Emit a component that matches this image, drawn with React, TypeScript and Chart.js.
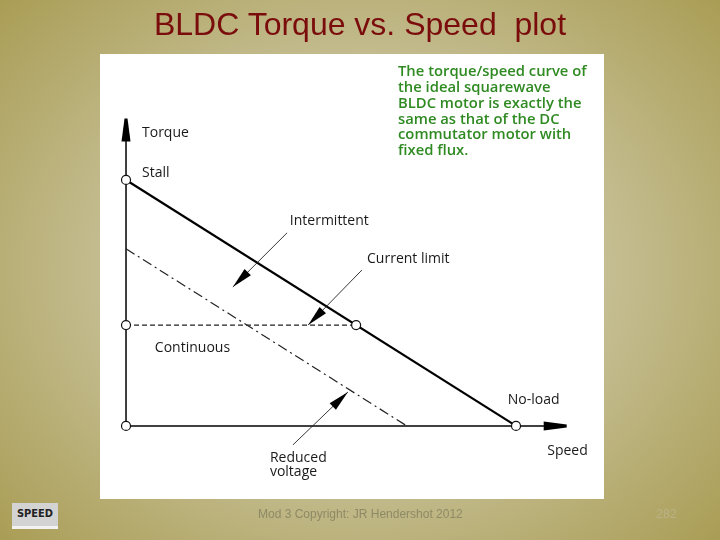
import React, { useEffect, useRef } from "react";
import { Chart, registerables } from "chart.js";

Chart.register(...registerables);

// ---- Data (arbitrary units: % of no-load speed, % of stall torque) ----
const mainSpeed = [0, 100];
const mainTorque = [100, 0];
const continuousSpeed = [0, 59];
const continuousTorque = [41, 41];
const reducedSpeed = [0, 72];
const reducedTorque = [72, 0];
const markerSpeed = [0, 0, 0, 59, 100];
const markerTorque = [100, 41, 0, 41, 0];
const torqueAxisEnd = 125;
const speedAxisEnd = 113;

const labelTexts = ["Torque", "Stall", "Intermittent", "Current limit", "Continuous", "No-load", "Speed", "Reduced", "voltage"];
const labelSpeed = [4.1, 4.1, 42, 61.8, 7.4, 97.9, 108, 36.9, 36.9];
const labelTorque = [119, 103, 83.3, 67.9, 31.7, 10.6, -10.2, -13.2, -18.9];

const arrowFromSpeed = [41.3, 60.5, 42.8];
const arrowFromTorque = [78.5, 63.4, -7.7];
const arrowToSpeed = [27.4, 46.7, 56.9];
const arrowToTorque = [56.5, 41, 13.8];

const noteLines = [
  "The torque/speed curve of",
  "the ideal squarewave",
  "BLDC motor is exactly the",
  "same as that of the DC",
  "commutator motor with",
  "fixed flux.",
];

const pts = (xs: number[], ys: number[]) => xs.map((x, i) => ({ x, y: ys[i] }));

const drawPlugin = {
  id: "diagram",
  afterDatasetsDraw(chart: any) {
    const ctx = chart.ctx as CanvasRenderingContext2D;
    const xs = chart.scales.x;
    const ys = chart.scales.y;
    const px = (v: number) => xs.getPixelForValue(v);
    const py = (v: number) => ys.getPixelForValue(v);
    ctx.save();
    ctx.fillStyle = "#000";
    // axis arrowheads
    const vx = px(0), vy = py(torqueAxisEnd);
    ctx.beginPath();
    ctx.moveTo(vx - 1.5, vy);
    ctx.lineTo(vx + 1.5, vy);
    ctx.lineTo(vx + 4.5, vy + 23);
    ctx.lineTo(vx - 4.5, vy + 23);
    ctx.closePath();
    ctx.fill();
    const hx = px(speedAxisEnd), hy = py(0);
    ctx.beginPath();
    ctx.moveTo(hx, hy - 1.5);
    ctx.lineTo(hx, hy + 1.5);
    ctx.lineTo(hx - 23, hy + 4.5);
    ctx.lineTo(hx - 23, hy - 4.5);
    ctx.closePath();
    ctx.fill();

    // leader arrows
    for (let i = 0; i < arrowFromSpeed.length; i++) {
      const x1 = px(arrowFromSpeed[i]), y1 = py(arrowFromTorque[i]);
      const x2 = px(arrowToSpeed[i]), y2 = py(arrowToTorque[i]);
      ctx.strokeStyle = "#222";
      ctx.lineWidth = 0.9;
      ctx.beginPath();
      ctx.moveTo(x1, y1);
      ctx.lineTo(x2, y2);
      ctx.stroke();
      const ang = Math.atan2(y2 - y1, x2 - x1);
      const len = 21, hw = 4.5;
      const bx = x2 - Math.cos(ang) * len, by = y2 - Math.sin(ang) * len;
      const nx = -Math.sin(ang), ny = Math.cos(ang);
      ctx.beginPath();
      ctx.moveTo(x2, y2);
      ctx.lineTo(bx + nx * hw, by + ny * hw);
      ctx.lineTo(bx - nx * hw, by - ny * hw);
      ctx.closePath();
      ctx.fill();
    }

    // labels
    ctx.fillStyle = "#1a1a1a";
    ctx.font = "14px 'Open Sans'";
    ctx.textBaseline = "middle";
    ctx.textAlign = "left";
    labelTexts.forEach((t, i) => {
      ctx.fillText(t, px(labelSpeed[i]), py(labelTorque[i]));
    });

    // note
    ctx.fillStyle = "#2f8a22";
    ctx.font = "600 14.8px 'Open Sans'";
    const left = chart.chartArea.left + 298;
    const top = chart.chartArea.top + 18;
    noteLines.forEach((t, i) => {
      ctx.fillText(t, left, top + i * 15.8);
    });
    ctx.restore();
  },
};

export default function App() {
  const ref = useRef<HTMLCanvasElement>(null);
  useEffect(() => {
    if (!ref.current) return;
    const chart = new Chart(ref.current, {
      type: "scatter",
      data: {
        datasets: [
          {
            data: pts(markerSpeed, markerTorque),
            showLine: false,
            pointRadius: 4.5,
            pointBackgroundColor: "#fff",
            pointBorderColor: "#111",
            pointBorderWidth: 1.2,
          },
          {
            data: pts(mainSpeed, mainTorque),
            showLine: true,
            borderColor: "#000",
            borderWidth: 2.2,
            pointRadius: 0,
          },
          {
            data: pts(continuousSpeed, continuousTorque),
            showLine: true,
            borderColor: "#222",
            borderWidth: 1.2,
            borderDash: [5, 3],
            pointRadius: 0,
          },
          {
            data: pts(reducedSpeed, reducedTorque),
            showLine: true,
            borderColor: "#222",
            borderWidth: 1.2,
            borderDash: [10, 4, 2, 4],
            pointRadius: 0,
          },
          {
            data: pts([0, 0], [0, torqueAxisEnd - 2]),
            showLine: true,
            borderColor: "#000",
            borderWidth: 1.5,
            pointRadius: 0,
          },
          {
            data: pts([0, speedAxisEnd - 2], [0, 0]),
            showLine: true,
            borderColor: "#000",
            borderWidth: 1.5,
            pointRadius: 0,
          },
        ],
      },
      options: {
        animation: false,
        responsive: false,
        maintainAspectRatio: false,
        layout: { padding: 0, autoPadding: false },
        plugins: { legend: { display: false }, tooltip: { enabled: false }, title: { display: false } },
        scales: {
          x: { type: "linear", display: false, min: -6.67, max: 122.56 },
          y: { type: "linear", display: false, min: -29.7, max: 151.2 },
        },
      },
      plugins: [drawPlugin],
    });
    return () => chart.destroy();
  }, []);

  return (
    <div
      style={{
        position: "fixed",
        left: 0,
        top: 0,
        width: 720,
        height: 540,
        overflow: "hidden",
        background:
          "radial-gradient(ellipse 72% 78% at 50% 50%, #d8d4b8 0%, #c9c39c 40%, #a6994e 100%)",
        fontFamily: "'Liberation Sans', Arial, sans-serif",
      }}
    >
      <div
        style={{
          position: "absolute",
          left: 0,
          width: 720,
          top: 4,
          textAlign: "center",
          fontSize: 32,
          lineHeight: "40px",
          color: "#7a0c0c",
          whiteSpace: "pre",
        }}
      >
        {"BLDC Torque vs. Speed  plot"}
      </div>
      <div style={{ position: "absolute", left: 100, top: 54, width: 504, height: 445, background: "#fff" }}>
        <canvas ref={ref} width={504} height={445} style={{ width: 504, height: 445, display: "block" }} />
      </div>
      <div
        style={{
          position: "absolute",
          left: 12,
          top: 503,
          width: 46,
          height: 26,
          background: "#d3d3d3",
          borderBottom: "3px solid #f2f2f2",
          boxSizing: "border-box",
          fontSize: 11,
          fontWeight: "bold",
          color: "#222",
          textAlign: "center",
          lineHeight: "22px",
          fontFamily: "'DejaVu Sans Condensed', sans-serif",
        }}
      >
        SPEED
      </div>
      <div
        style={{
          position: "absolute",
          left: 258,
          top: 507,
          fontSize: 12,
          color: "#8e8a66",
          whiteSpace: "nowrap",
        }}
      >
        Mod 3 Copyright: JR Hendershot 2012
      </div>
      <div style={{ position: "absolute", left: 656, top: 507, fontSize: 12.5, color: "#b9b286" }}>282</div>
    </div>
  );
}
